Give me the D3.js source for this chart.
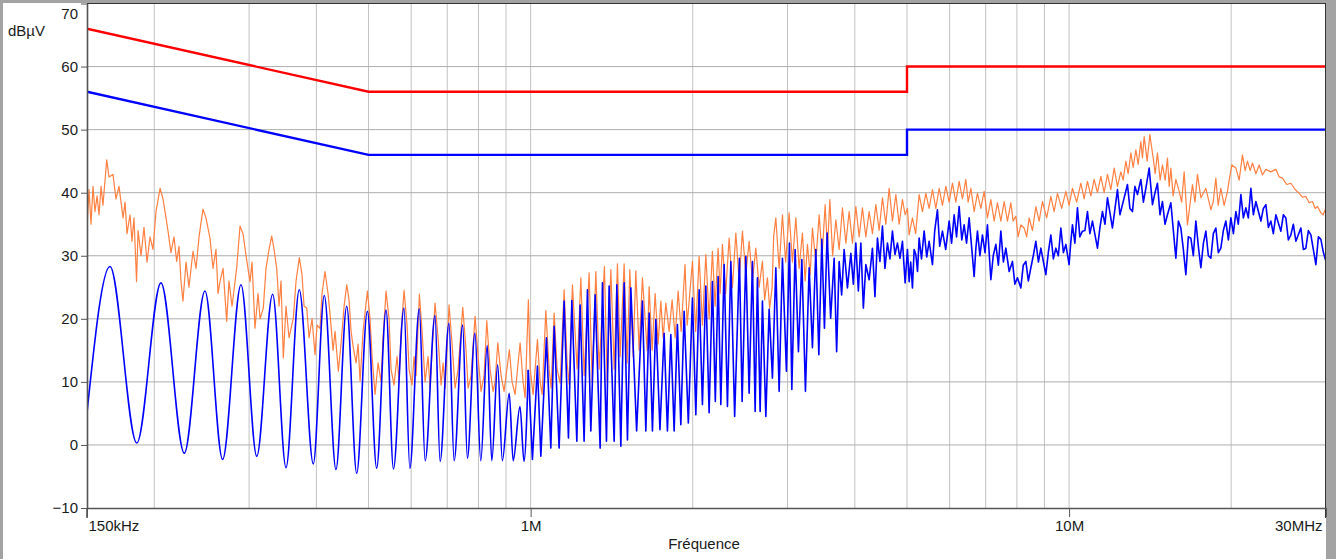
<!DOCTYPE html>
<html lang="fr">
<head>
<meta charset="utf-8">
<script src="https://d3js.org/d3.v7.min.js"></script>
<style>
  body { margin: 0; background: #fff; }
  svg { display: block; font-family: "Liberation Sans", Arial, sans-serif; }
</style>
</head>
<body>
<script>
// limit lines [MHz, dBuV]
const qpLimit = [[0.15, 66], [0.5, 56], [5, 56], [5, 60], [30, 60]];
const avLimit = [[0.15, 56], [0.5, 46], [5, 46], [5, 50], [30, 50]];

// measured average trace (blue), [MHz, dBuV]
const avgLow = [[0.150,5.1],[0.1655,28.3],[0.1856,0.3],[0.2058,25.7],[0.2274,-1.3],[0.2484,24.4],[0.2679,-2.3],[0.2898,25.4],[0.310,-1.8],[0.3318,23.9],[0.3513,-3.6],[0.3718,24.6],[0.3948,-3.0],[0.4138,23.7],[0.435,-3.9],[0.4554,22.0],[0.4753,-4.5],[0.4975,21.2],[0.5177,-3.7],[0.5388,21.4],[0.5562,-3.8],[0.5818,21.7],[0.5966,-3.7],[0.6211,21.6],[0.637,-2.5],[0.6643,20.5],[0.679,-2.6],[0.7052,19.3],[0.721,-2.5],[0.7478,19.0],[0.763,-2.1],[0.788,17.7],[0.808,-2.5],[0.8305,15.8],[0.847,-2.5],[0.8685,12.7],[0.886,-2.5],[0.9126,8.2],[0.928,-2.5],[0.9555,6.1],[0.972,-2.6],[0.990,11.9]];
const avgMid = [[1.0077,-2.3],[1.0295,12.5],[1.0446,-1.8],[1.0699,17.0],[1.0902,-0.5],[1.1058,18.8],[1.1295,-0.5],[1.1539,22.8],[1.1755,1.1],[1.1927,22.9],[1.2184,0.6],[1.2357,22.2],[1.2568,0.6],[1.2749,24.6],[1.2936,2.2],[1.3176,23.8],[1.3461,-0.5],[1.3595,25.7],[1.3830,0.6],[1.3989,25.2],[1.4293,0.6],[1.4459,25.4],[1.4707,-0.2],[1.4917,25.7],[1.5129,0.8],[1.5349,24.9],[1.5734,2.2],[1.6130,22.8],[1.6366,2.2],[1.6599,20.9],[1.6835,2.2],[1.7081,19.9],[1.7383,2.4],[1.7698,17.7],[1.7949,2.2],[1.8212,17.5],[1.8471,2.2],[1.8733,19.1],[1.9007,3.2],[1.9278,21.2],[1.9627,3.5],[1.9975,23.3],[2.0267,4.8],[2.0555,24.6],[2.0847,6.4],[2.1152,25.2],[2.1453,5.1],[2.1758,25.9],[2.2029,6.9],[2.2295,26.7],[2.2554,6.4],[2.2875,28.6],[2.3200,6.1],[2.3540,29.1],[2.3926,4.5],[2.4422,29.6],[2.4705,6.9],[2.5099,29.9],[2.5456,8.2],[2.5818,29.1],[2.6118,5.3],[2.6376,26.5],[2.6682,5.3],[2.6946,22.8],[2.7340,4.5],[2.7729,21.5],[2.8123,10.6],[2.8535,28.1],[2.8940,8.5],[2.9352,29.6],[2.9858,11.7],[3.0244,32.0],[3.0555,8.8],[3.0990,31.0],[3.1430,14.8],[3.1891,29.4],[3.2386,8.5],[3.2903,28.1],[3.3370,15.4],[3.3859,31.0],[3.4296,14.3],[3.4739,32.6],[3.5127,18.5],[3.5535,33.6],[3.6071,20.1],[3.6615,29.6],[3.7008,14.8],[3.7406,29.1],[3.7808,23.8],[3.8215,31.0],[3.8758,24.9],[3.9326,30.4],[3.9748,25.5],[4.0176,32.0],[4.0608,24.4],[4.1044,32.0],[4.1485,21.7],[4.1931,28.6],[4.2527,26.2],[4.3131,31.2],[4.3594,23.5],[4.4063,32.8],[4.4536,29.1],[4.5015,34.7],[4.5499,28.0],[4.5988,32.0],[4.6482,29.5],[4.6982,33.9],[4.7487,30.2],[4.7998,32.0],[4.8513,29.6],[4.9035,32.3],[4.9604,25.7],[5.0095,31.0]];
const avgHigh = [[5.0460,25.9],[5.08,29],[5.1178,24.9],[5.155,31],[5.1927,30.2],[5.23,27.5],[5.2665,32.8],[5.32,29.5],[5.3803,33.9],[5.44,29.8],[5.4966,32.3],[5.5748,28.6],[5.63,34],[5.6952,37.3],[5.75,31.5],[5.8183,33.9],[5.90,31],[5.9874,35.5],[6.05,32],[6.1169,36.5],[6.18,33],[6.2491,37.8],[6.32,32.5],[6.3841,34.9],[6.45,32],[6.5221,36.0],[6.6631,26.7],[6.71,31],[6.7578,33.9],[6.83,30],[6.9039,33.3],[6.98,30.5],[7.0531,34.9],[7.1563,26.2],[7.23,30],[7.3110,31.8],[7.39,28.5],[7.4691,33.9],[7.55,29],[7.6305,31.2],[7.74,27.5],[7.8489,29.1],[7.93,25.5],[8.0185,26.5],[8.1360,24.9],[8.22,28.5],[8.3118,29.1],[8.40,26],[8.4915,28.1],[8.58,30],[8.6750,32.3],[8.77,29],[8.8625,31.2],[9.0540,27.0],[9.15,30.5],[9.2497,33.3],[9.35,29.5],[9.4497,31.2],[9.55,30],[9.6539,34.4],[9.76,30.5],[9.8625,31.8],[10.0,28.6],[10.07,32],[10.145,34.9],[10.25,32],[10.364,37.6],[10.47,33],[10.588,33.9],[10.70,34],[10.817,37.0],[10.93,33.5],[11.051,35.5],[11.290,31.2],[11.41,34.5],[11.533,37.0],[11.66,35],[11.783,39.2],[12.037,34.4],[12.17,37.5],[12.298,40.5],[12.43,36.5],[12.563,38.1],[12.835,41.3],[12.97,37.5],[13.113,37.0],[13.25,41],[13.396,39.7],[13.592,42.1],[13.74,38.5],[13.885,40.7],[14.083,43.9],[14.284,38.1],[14.44,40],[14.592,41.5],[14.75,36.5],[14.907,38.6],[15.07,35],[15.230,36.5],[15.452,38.4],[15.786,29.6],[15.96,35.5],[16.128,34.4],[16.30,31],[16.476,27.0],[16.65,33],[16.832,32.8],[17.01,30],[17.196,35.5],[17.38,31.5],[17.568,28.1],[17.76,32],[17.948,33.9],[18.14,30],[18.336,29.6],[18.53,33.5],[18.732,34.4],[18.93,30.5],[19.136,31.2],[19.34,34],[19.550,35.5],[19.76,32.5],[19.973,36.0],[20.19,33.5],[20.405,37.0],[20.62,35],[20.846,39.7],[21.07,36],[21.296,37.6],[21.52,36],[21.757,40.7],[21.99,36.5],[22.227,38.6],[22.708,35.5],[22.95,37.5],[23.198,38.1],[23.45,34.5],[23.699,35.5],[23.95,33.5],[24.212,36.5],[24.734,33.9],[25.00,36.5],[25.269,36.0],[25.54,32.5],[25.815,33.3],[26.09,35],[26.373,32.3],[26.943,34.4],[27.23,31],[27.525,31.2],[27.82,34],[28.121,33.3],[28.729,28.6],[29.04,33],[29.349,32.6],[29.67,30.5],[30.0,29.1]];

// measured peak trace (orange), [MHz, dBuV]
const peakLow = [[0.1500,34.5],[0.1513,40.5],[0.1526,35],[0.1539,41],[0.1552,37],[0.1566,39.5],[0.1579,36.5],[0.1593,41],[0.1606,38],[0.1632,45.2],[0.1648,42.5],[0.1676,42.9],[0.1698,39],[0.1720,41],[0.1750,36],[0.1765,38.5],[0.1780,33.5],[0.1803,36.5],[0.1818,32.3],[0.1834,36],[0.1854,25.9],[0.1866,34],[0.1890,30],[0.1914,34.5],[0.1939,29],[0.1964,33],[0.1989,31],[0.2015,37],[0.2050,40.7],[0.2076,39],[0.2103,36],[0.2121,33.9],[0.2148,30.5],[0.2176,33],[0.2201,29.1],[0.2223,31.5],[0.2242,26],[0.2261,22.8],[0.2291,29],[0.2320,25],[0.2360,30.7],[0.2391,28],[0.2422,33],[0.2463,37.4],[0.2495,36],[0.2538,32.8],[0.2571,28],[0.2604,31],[0.2627,24],[0.2649,25.9],[0.2684,28],[0.2726,19.6],[0.2753,26],[0.2789,22],[0.2845,28.1],[0.2886,34.7],[0.2923,33.5],[0.2961,30],[0.3012,25.9],[0.3038,29],[0.3077,18.5],[0.3117,24],[0.3144,20],[0.3188,21.7],[0.3225,28],[0.3267,31],[0.3305,33.1],[0.3338,31],[0.3376,28],[0.3410,22],[0.3439,26],[0.3473,13.8],[0.3513,22],[0.3559,17],[0.3625,20.1],[0.3667,26],[0.3719,29.7],[0.3762,27],[0.3795,22],[0.3839,21.7],[0.3877,17],[0.3927,20],[0.3977,14.3],[0.4012,19],[0.4063,18.5],[0.4098,24],[0.4151,27.5],[0.4205,24],[0.4241,20.7],[0.4296,15],[0.4333,18],[0.4394,11.7],[0.4445,16],[0.4503,22],[0.4555,25.4],[0.4600,23],[0.4640,18],[0.4685,15.4],[0.4740,13],[0.4781,16],[0.4822,10.1],[0.4884,18],[0.4975,24.4],[0.5032,20],[0.5076,14],[0.5141,8.0],[0.5208,13],[0.5275,10],[0.5320,17],[0.5389,24.4],[0.5458,20],[0.5505,12],[0.5576,9.5],[0.5648,14],[0.5697,10],[0.5746,18],[0.5820,24.5],[0.5895,19],[0.5946,12],[0.6023,9.5],[0.6074,14],[0.6127,11],[0.6214,23.9],[0.6286,18],[0.6367,10],[0.6449,14],[0.6505,9],[0.6561,15],[0.6645,22.5],[0.6731,17],[0.6818,9.5],[0.6877,13],[0.6936,9],[0.7055,22.2],[0.7146,16],[0.7239,9],[0.7332,12],[0.7481,21.8],[0.7587,15],[0.7653,9],[0.7752,11],[0.7885,20.4],[0.7987,14],[0.8090,8.5],[0.8195,11],[0.8290,19.7],[0.8408,12],[0.8516,8.5],[0.8590,10],[0.8689,16.2],[0.8813,11],[0.8927,8.5],[0.9131,15.1],[0.9237,10],[0.9357,8],[0.9559,16.2],[0.9682,10],[0.9766,7.5],[0.9904,23],[0.998,12]];
const peakMid = [[1.0108,8],[1.0295,16.7],[1.0415,10],[1.0504,8],[1.0671,21.3],[1.0823,12],[1.0916,9],[1.1057,20.9],[1.1200,12],[1.1344,9.8],[1.1540,24.6],[1.1689,13],[1.1790,9.6],[1.1957,25.4],[1.2200,12],[1.2395,26.5],[1.2571,11],[1.2842,27.3],[1.3008,10],[1.3216,27.5],[1.3404,12],[1.3711,28.3],[1.3870,10],[1.4091,27.8],[1.4292,12],[1.4495,28.7],[1.4663,14],[1.4916,28.7],[1.5109,13],[1.5284,27.8],[1.5501,14],[1.5681,27.6],[1.5904,15],[1.6130,26.5],[1.6458,15],[1.6599,25.1],[1.6813,15],[1.7030,24],[1.7251,16],[1.7451,22.8],[1.7623,17],[1.7828,22.5],[1.8081,18],[1.8314,23],[1.8551,17],[1.8791,24.4],[1.9033,18],[1.9350,28.6],[1.9528,19],[1.9975,29.1],[2.0251,18],[2.0555,29.9],[2.0847,19],[2.1152,30.2],[2.1453,20],[2.1758,30.7],[2.2011,22],[2.2295,31.2],[2.2487,24],[2.2709,31.8],[2.3022,24],[2.3369,32.8],[2.3702,25],[2.4049,33.6],[2.4391,26],[2.4737,33.9],[2.5099,27],[2.5456,32.3],[2.5818,26],[2.6196,31.2],[2.6568,25],[2.6946,29.1],[2.7200,23],[2.7528,26.5],[2.7788,21.7],[2.8086,25],[2.8267,33],[2.8535,36],[2.8940,28],[2.9352,36.5],[2.9756,29],[3.0205,36.8],[3.0634,29],[3.1083,36],[3.1524,28],[3.1973,33.6],[3.2345,26],[3.2664,31.8],[3.3043,27],[3.3370,34.4],[3.3859,29],[3.4340,36.5],[3.4783,30],[3.5233,38.1],[3.5581,31],[3.5948,38.9],[3.6380,30],[3.6882,35.7],[3.7406,31],[3.7938,37.6],[3.8494,32],[3.9041,37],[3.9596,32],[4.0176,37.8],[4.0747,33],[4.1326,37.6],[4.1931,33],[4.2527,37],[4.3131,33.5],[4.3763,38.1],[4.4384,34],[4.5015,39.2],[4.5675,35],[4.6324,40.7],[4.6982,35.5],[4.7671,39.7],[4.8348,35],[4.9035,38.9],[4.9604,36.5],[5.0095,37.5]];
const peakHigh = [[5.0460,33.3],[5.1178,36],[5.1882,33.5],[5.2665,39.7],[5.3414,37],[5.4196,39.9],[5.4966,37.5],[5.5748,40.5],[5.6564,37.5],[5.7368,40.7],[5.8183,38],[5.9035,41],[5.9874,38.5],[6.0726,41.5],[6.1615,38.5],[6.2491,41.8],[6.3379,39],[6.4307,42.1],[6.4943,38.5],[6.5697,40.7],[6.6631,37],[6.7578,39.9],[6.8568,37.5],[6.9542,40.2],[7.0531,36],[7.1563,38.9],[7.2580,35.5],[7.3612,38.4],[7.4691,35.5],[7.5752,38.6],[7.6829,35.5],[7.7954,38.4],[7.8723,35.5],[7.9639,36.3],[8.0426,33],[8.1360,34.9],[8.2516,34.4],[8.3403,33],[8.4300,36],[8.5498,34],[8.6750,37.8],[8.7983,35.5],[8.9233,38.6],[9.0850,36],[9.2497,39.4],[9.3812,37],[9.5145,39.9],[9.6869,37.5],[9.8625,40.2],[10.0,38],[10.145,40.7],[10.329,38.5],[10.516,41.5],[10.665,39],[10.817,41.8],[10.975,39.5],[11.131,42.1],[11.290,40],[11.455,42.6],[11.618,40],[11.783,42.9],[11.955,40.5],[12.125,43.9],[12.298,41],[12.478,43.3],[12.601,42],[12.747,45],[12.873,43],[13.023,46.3],[13.152,44],[13.305,46.8],[13.436,44.5],[13.592,48.1],[13.685,45.5],[13.785,48.9],[13.963,45],[14.125,49.2],[14.326,45.5],[14.449,43],[14.592,46.3],[14.762,42],[14.907,44.4],[15.080,42],[15.230,45.5],[15.341,41],[15.452,43.9],[15.605,39.5],[15.786,42.1],[16.011,40.2],[16.183,38.5],[16.357,43.3],[16.590,34.9],[16.948,41.3],[17.130,38.5],[17.314,42.9],[17.568,39.2],[17.948,40.7],[18.336,37.3],[18.517,38.5],[18.732,42.3],[18.917,38],[19.136,40.7],[19.408,38],[19.684,40.2],[19.828,42],[20.059,44.4],[20.405,43.9],[20.695,42],[20.989,46],[21.233,43.5],[21.443,45],[21.692,43.5],[21.906,44.7],[22.227,43],[22.543,44.4],[22.863,42.8],[23.198,43.7],[23.699,43.3],[24.212,43.7],[24.556,42.5],[24.904,42.3],[25.355,41.3],[25.815,41.5],[26.294,40.5],[26.748,39.9],[27.128,39.3],[27.525,39.4],[27.917,38.4],[28.314,38.6],[28.643,37.5],[28.926,37.8],[29.349,36.8],[29.639,36.5],[30.0,37.6]];

// axis ticks / grid
const yTicks = [-10, 0, 10, 20, 30, 40, 50, 60, 70];
const xLabelTicks = [0.15, 1, 10, 30];
const xLabels = ["150kHz", "1M", "10M", "30MHz"];
const xGrid = [0.2, 0.3, 0.4, 0.5, 0.6, 0.7, 0.8, 0.9, 1, 2, 3, 4, 5, 6, 7, 8, 9, 10, 20];

const W = 1336, H = 559;
const plotL = 87, plotR = 1326, plotT = 3.5, plotB = 508;

const svg = d3.select("body").append("svg")
    .attr("width", W)
    .attr("height", H);

// grey window border
svg.append("rect").attr("width", W).attr("height", H).attr("fill", "#a3a3a3");
svg.append("rect").attr("x", 3).attr("y", 3)
    .attr("width", plotR - 3).attr("height", H - 3).attr("fill", "#fff");

const x = d3.scaleLog().domain([0.15, 30]).range([plotL, plotR]);
const y = d3.scaleLinear().domain([-10, 70]).range([plotB, plotT]);

// grid
svg.append("g").selectAll("line").data(xGrid).join("line")
    .attr("x1", d => x(d)).attr("x2", d => x(d))
    .attr("y1", plotT).attr("y2", plotB)
    .attr("stroke", "#c2c2c2").attr("stroke-width", 1);
svg.append("g").selectAll("line").data(yTicks.slice(1, -1)).join("line")
    .attr("x1", plotL).attr("x2", plotR)
    .attr("y1", d => y(d)).attr("y2", d => y(d))
    .attr("stroke", "#adadad").attr("stroke-width", 1);

svg.append("clipPath").attr("id", "plotclip")
    .append("rect").attr("x", plotL).attr("y", plotT)
    .attr("width", plotR - plotL).attr("height", plotB - plotT);

const line = d3.line().x(d => x(d[0])).y(d => y(d[1]));
const smooth = d3.line().x(d => x(d[0])).y(d => y(d[1])).curve(d3.curveMonotoneX);

const traces = svg.append("g").attr("clip-path", "url(#plotclip)");

traces.append("path")
    .datum(peakLow.concat(peakMid, peakHigh))
    .attr("fill", "none")
    .attr("stroke", "#ff8040")
    .attr("stroke-width", 1.2)
    .attr("stroke-linejoin", "round")
    .attr("d", line);

// low band is a smooth ripple, above 1 MHz the trace is spiky
traces.append("path")
    .datum(avgLow)
    .attr("fill", "none")
    .attr("stroke", "#0000ff")
    .attr("stroke-width", 1.6)
    .attr("stroke-linejoin", "round")
    .attr("d", smooth);

traces.append("path")
    .datum([avgLow[avgLow.length - 1]].concat(avgMid, avgHigh))
    .attr("fill", "none")
    .attr("stroke", "#0000ff")
    .attr("stroke-width", 1.6)
    .attr("stroke-linejoin", "round")
    .attr("d", line);

traces.append("path")
    .datum(qpLimit)
    .attr("fill", "none")
    .attr("stroke", "#ff0000")
    .attr("stroke-width", 2.4)
    .attr("d", line);

traces.append("path")
    .datum(avLimit)
    .attr("fill", "none")
    .attr("stroke", "#0000ff")
    .attr("stroke-width", 2.4)
    .attr("d", line);

// frame top / right
svg.append("line").attr("x1", plotL).attr("x2", plotR).attr("y1", 3.5).attr("y2", 3.5)
    .attr("stroke", "#333").attr("stroke-width", 1);
svg.append("line").attr("x1", plotR - 0.5).attr("x2", plotR - 0.5).attr("y1", 3).attr("y2", 518)
    .attr("stroke", "#333").attr("stroke-width", 1);

// axes
const yAxis = svg.append("g")
    .attr("transform", `translate(${plotL},0)`)
    .call(d3.axisLeft(y).tickValues(yTicks).tickSize(6).tickSizeOuter(0).tickPadding(3));

const xAxis = svg.append("g")
    .attr("transform", `translate(0,${plotB})`)
    .call(d3.axisBottom(x).tickValues(xLabelTicks).tickSize(9).tickSizeOuter(0).tickPadding(3)
        .tickFormat((d, i) => xLabels[i]));

[yAxis, xAxis].forEach(g => {
    g.select(".domain").attr("stroke", "#555").attr("stroke-width", 1.6);
    g.selectAll(".tick line").attr("stroke", "#555").attr("stroke-width", 1);
    g.selectAll("text").attr("font-size", 15).attr("fill", "#1a1a1a")
        .attr("font-family", "'Liberation Sans', Arial, sans-serif");
});

// left axis runs down past the bottom axis
svg.append("line").attr("x1", plotL).attr("x2", plotL).attr("y1", plotB).attr("y2", 518)
    .attr("stroke", "#555").attr("stroke-width", 1.6);

// top label sits inside the window
yAxis.selectAll(".tick").filter(d => d === 70).select("text").attr("dy", "1em");

xAxis.selectAll(".tick text")
    .attr("text-anchor", (d, i) => i === 0 ? "start" : (i === xLabels.length - 1 ? "end" : "middle"))
    .attr("dx", (d, i) => i === 0 ? 1 : (i === xLabels.length - 1 ? -4 : 0));

svg.append("text")
    .attr("x", 8).attr("y", 36)
    .attr("font-size", 15).attr("fill", "#1a1a1a")
    .text("dBµV");

svg.append("text")
    .attr("x", 704).attr("y", 549)
    .attr("text-anchor", "middle")
    .attr("font-size", 15).attr("fill", "#1a1a1a")
    .text("Fréquence");
</script>
</body>
</html>
